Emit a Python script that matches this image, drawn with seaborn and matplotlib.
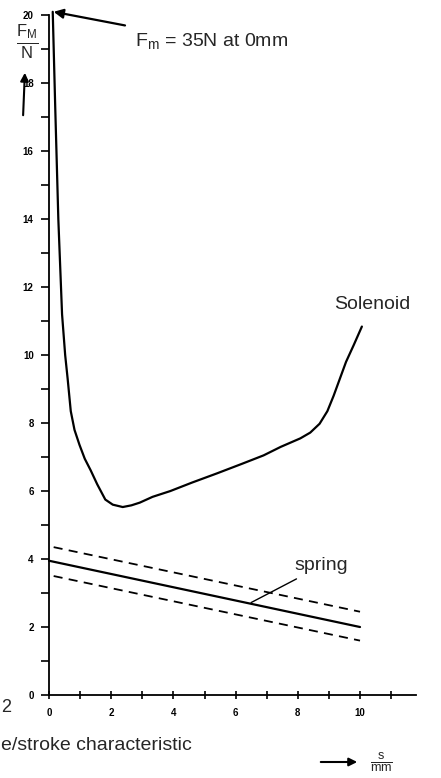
import numpy as np
import pandas as pd
import matplotlib
matplotlib.use("Agg")
import matplotlib.pyplot as plt
import seaborn as sns

# force/stroke values (s in mm, F in N)
solenoid_s = [0.12, 0.20, 0.30, 0.42, 0.52, 0.60, 0.70, 0.82, 0.98, 1.15, 1.34,
              1.55, 1.81, 2.05, 2.37, 2.65, 2.92, 3.33, 3.90, 4.60, 5.40, 6.20,
              6.90, 7.45, 8.08, 8.40, 8.70, 8.95, 9.15, 9.35, 9.55, 9.80, 10.06]
solenoid_F = [20.1, 17.3, 14.0, 11.2, 10.0, 9.3, 8.35, 7.8, 7.36, 6.95, 6.61,
              6.2, 5.75, 5.6, 5.53, 5.58, 5.66, 5.83, 6.0, 6.25, 6.52, 6.8,
              7.05, 7.3, 7.55, 7.72, 7.98, 8.35, 8.8, 9.3, 9.8, 10.3, 10.84]

spring_s = [0.0, 10.0]
spring_F = [3.95, 2.0]
spring_hi_s = [0.15, 10.0]
spring_hi_F = [4.35, 2.45]
spring_lo_s = [0.15, 10.0]
spring_lo_F = [3.5, 1.6]

x_ticks = [0, 2, 4, 6, 8, 10]
y_ticks = [0, 2, 4, 6, 8, 10, 12, 14, 16, 18, 20]

sns.set_style("white")
plt.rcParams['font.family'] = ['Liberation Sans', 'DejaVu Sans']
plt.rcParams['mathtext.fontset'] = 'custom'
plt.rcParams['mathtext.rm'] = 'Liberation Sans'

fig = plt.figure(figsize=(4.41, 7.78), dpi=100)
ax = fig.add_axes([49/441, 83/778, 367/441, 690/778])

df_sol = pd.DataFrame({"s": solenoid_s, "F": solenoid_F})
sns.lineplot(data=df_sol, x="s", y="F", sort=False, estimator=None,
             color="black", linewidth=1.6, ax=ax)
sns.lineplot(x=spring_s, y=spring_F, color="black", linewidth=1.6, ax=ax)
sns.lineplot(x=spring_hi_s, y=spring_hi_F, color="black", linewidth=1.3,
             ax=ax).lines[-1].set_dashes((5, 3.5))
sns.lineplot(x=spring_lo_s, y=spring_lo_F, color="black", linewidth=1.3,
             ax=ax).lines[-1].set_dashes((5, 3.5))
for ln in ax.lines:
    ln.set_solid_joinstyle("round")
    ln.set_clip_on(False)

ax.set_xlim(0, 11.8)
ax.set_ylim(0, 20.3)
ax.spines['top'].set_visible(False)
ax.spines['right'].set_visible(False)
for sp in ['left', 'bottom']:
    ax.spines[sp].set_color("black")
    ax.spines[sp].set_linewidth(1.3)
ax.spines['left'].set_bounds(0, 20)

ax.set_xticks(x_ticks)
ax.set_yticks(y_ticks)
ax.set_xticks(np.arange(1, 12, 2), minor=True)
ax.set_yticks(np.arange(1, 20, 2), minor=True)
ax.tick_params(axis='y', which='both', direction='out', length=6, width=1.2,
               colors='black', labelsize=7, pad=5, left=True)
ax.tick_params(axis='x', which='both', direction='inout', length=6, width=1.2,
               colors='black', labelsize=7, pad=6, bottom=True)
for lab in ax.get_xticklabels() + ax.get_yticklabels():
    lab.set_fontweight('bold')
ax.set_xlabel("")
ax.set_ylabel("")

# curve labels
ax.text(10.4, 11.5, "Solenoid", fontsize=14, ha="center", va="center")
ax.annotate("spring", xy=(6.5, 2.72), xytext=(7.9, 3.8), fontsize=14,
            ha="left", va="center",
            arrowprops=dict(arrowstyle="-", color="black", lw=1.0,
                            shrinkA=2, shrinkB=0))
ax.annotate(r"F$_\mathrm{m}$ = 35N at 0mm", xy=(0.15, 20.1),
            xytext=(135, 778 - 42), textcoords="figure pixels",
            fontsize=14, ha="left", va="center",
            arrowprops=dict(arrowstyle="-|>", color="black", lw=1.6,
                            mutation_scale=14, shrinkA=12, shrinkB=0))

# axis labels with arrows
fig.text(27/441, 1 - 42/778, r"$\frac{\mathrm{F_M}}{\mathrm{N}}$", fontsize=17,
         ha="center", va="center")
ax.annotate("", xy=(25, 778 - 70), xycoords="figure pixels",
            xytext=(23, 778 - 118), textcoords="figure pixels",
            arrowprops=dict(arrowstyle="-|>", color="black", lw=1.5,
                            mutation_scale=12))
ax.annotate("", xy=(360, 778 - 762), xycoords="figure pixels",
            xytext=(318, 778 - 762), textcoords="figure pixels",
            arrowprops=dict(arrowstyle="-|>", color="black", lw=1.5,
                            mutation_scale=12))
fig.text(381/441, 1 - 762/778, r"$\frac{\mathrm{s}}{\mathrm{mm}}$", fontsize=13,
         ha="center", va="center")

# caption fragment at bottom left
fig.text(1/441, 1 - 708/778, "2", fontsize=13, ha="left", va="center")
fig.text(1/441, 1 - 746/778, "e/stroke characteristic", fontsize=14,
         ha="left", va="center")

fig.savefig("out.png", dpi=100)
